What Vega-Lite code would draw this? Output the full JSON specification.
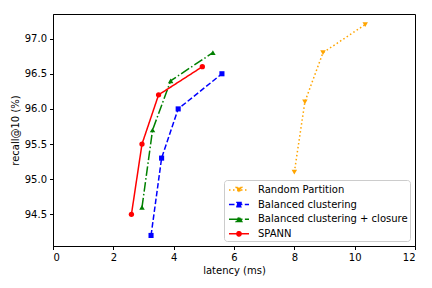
{
  "$schema": "https://vega.github.io/schema/vega-lite/v6.json",
  "width": 362,
  "height": 232,
  "autosize": "none",
  "padding": {"left": 53, "top": 14, "right": 17, "bottom": 42},
  "background": "white",
  "config": {
    "font": "DejaVu Sans",
    "view": {"stroke": "black", "strokeWidth": 1},
    "axis": {
      "grid": false,
      "domainColor": "black",
      "tickColor": "black",
      "tickSize": 3.5,
      "labelPadding": 3,
      "labelFontSize": 10,
      "labelColor": "black",
      "titleFontSize": 10,
      "titleFontWeight": "normal",
      "titleColor": "black",
      "labelFont": "DejaVu Sans",
      "titleFont": "DejaVu Sans"
    }
  },
  "data": {
    "values": [
      {"method": "Random Partition", "latency": 8.0, "recall": 95.1},
      {"method": "Random Partition", "latency": 8.35, "recall": 96.1},
      {"method": "Random Partition", "latency": 8.95, "recall": 96.8},
      {"method": "Random Partition", "latency": 10.35, "recall": 97.2},
      {"method": "Balanced clustering", "latency": 3.25, "recall": 94.2},
      {"method": "Balanced clustering", "latency": 3.6, "recall": 95.3},
      {"method": "Balanced clustering", "latency": 4.15, "recall": 96.0},
      {"method": "Balanced clustering", "latency": 5.6, "recall": 96.5},
      {"method": "Balanced clustering + closure", "latency": 2.95, "recall": 94.6},
      {"method": "Balanced clustering + closure", "latency": 3.3, "recall": 95.7},
      {"method": "Balanced clustering + closure", "latency": 3.9, "recall": 96.4},
      {"method": "Balanced clustering + closure", "latency": 5.3, "recall": 96.8},
      {"method": "SPANN", "latency": 2.6, "recall": 94.5},
      {"method": "SPANN", "latency": 2.95, "recall": 95.5},
      {"method": "SPANN", "latency": 3.5, "recall": 96.2},
      {"method": "SPANN", "latency": 4.95, "recall": 96.6}
    ]
  },
  "encoding": {
    "x": {
      "field": "latency",
      "type": "quantitative",
      "scale": {"domain": [0, 12], "nice": false, "zero": false},
      "axis": {"values": [0, 2, 4, 6, 8, 10, 12], "title": "latency (ms)", "titlePadding": 3, "format": "d"}
    },
    "y": {
      "field": "recall",
      "type": "quantitative",
      "scale": {"domain": [94.05, 97.35], "nice": false, "zero": false},
      "axis": {"values": [94.5, 95.0, 95.5, 96.0, 96.5, 97.0], "format": ".1f", "title": "recall@10 (%)", "titlePadding": 4}
    },
    "color": {
      "field": "method",
      "type": "nominal",
      "scale": {
        "domain": ["Random Partition", "Balanced clustering", "Balanced clustering + closure", "SPANN"],
        "range": ["orange", "blue", "green", "red"]
      },
      "legend": {
        "title": null,
        "orient": "none",
        "legendX": 171,
        "legendY": 166,
        "labelFontSize": 10,
        "labelFont": "DejaVu Sans",
        "labelColor": "black",
        "symbolSize": 196,
        "symbolStrokeWidth": 1.5,
        "symbolOffset": 5,
        "labelOffset": 11,
        "rowPadding": 0.6,
        "padding": 2,
        "strokeColor": "#cccccc",
        "fillColor": "white",
        "cornerRadius": 3,
        "encode": {
          "symbols": {
            "update": {
              "shape": {"signal": "datum.value === 'Random Partition' ? 'M-1.43,0H1.43M-0.39,-0.34L0.39,-0.34L0,0.34Z' : datum.value === 'Balanced clustering' ? 'M-1.43,0H1.43M-0.29,-0.29H0.29V0.29H-0.29Z' : datum.value === 'SPANN' ? 'M-1.43,0H1.43M0.3,0A0.3,0.3 0 1,1 -0.3,0A0.3,0.3 0 1,1 0.3,0Z' : 'M-1.43,0H1.43M-0.39,0.34L0.39,0.34L0,-0.34Z'"},
              "strokeDash": {"signal": "datum.value === 'Random Partition' ? [1.5, 2.5] : datum.value === 'Balanced clustering' ? [5.5, 2.4] : datum.value === 'SPANN' ? [] : [9.6, 2.4, 1.5, 2.4]"},
              "fill": {"signal": "scale('color', datum.value)"},
              "stroke": {"signal": "scale('color', datum.value)"},
              "strokeWidth": {"value": 1.5},
              "opacity": {"value": 1}
            }
          }
        }
      }
    }
  },
  "layer": [
    {
      "mark": {"type": "line", "strokeWidth": 1.5},
      "encoding": {
        "strokeDash": {
          "field": "method",
          "type": "nominal",
          "scale": {
            "domain": ["Random Partition", "Balanced clustering", "Balanced clustering + closure", "SPANN"],
            "range": [[1.5, 2.5], [5.5, 2.4], [9.6, 2.4, 1.5, 2.4], [1, 0]]
          },
          "legend": null
        }
      }
    },
    {
      "transform": [{"filter": "datum.method === 'Random Partition'"}],
      "mark": {"type": "point", "filled": true, "size": 30, "opacity": 1, "shape": "triangle-down"}
    },
    {
      "transform": [{"filter": "datum.method === 'Balanced clustering'"}],
      "mark": {"type": "point", "filled": true, "size": 26, "opacity": 1, "shape": "square"}
    },
    {
      "transform": [{"filter": "datum.method === 'Balanced clustering + closure'"}],
      "mark": {"type": "point", "filled": true, "size": 30, "opacity": 1, "shape": "triangle-up"}
    },
    {
      "transform": [{"filter": "datum.method === 'SPANN'"}],
      "mark": {"type": "point", "filled": true, "size": 28, "opacity": 1, "shape": "circle"}
    }
  ]
}
